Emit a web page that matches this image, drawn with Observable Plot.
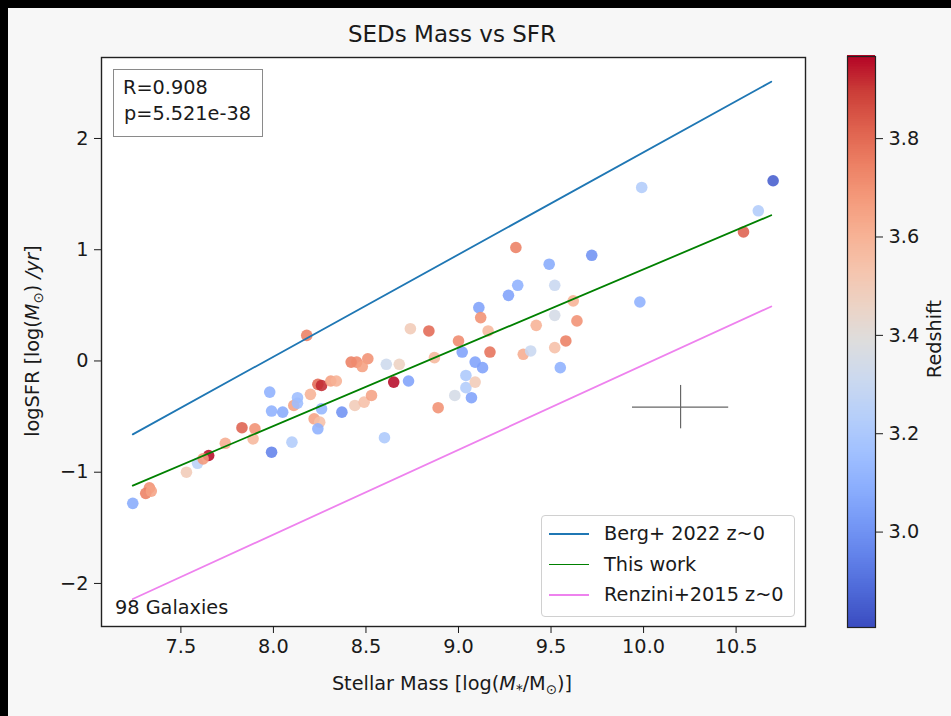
<!DOCTYPE html>
<html><head><meta charset="utf-8">
<script src="https://cdn.jsdelivr.net/npm/d3@7"></script>
<script src="https://cdn.jsdelivr.net/npm/@observablehq/plot@0.6"></script>
<style>
html,body{margin:0;padding:0;background:#000;}
#fig{position:absolute;left:0;top:0;width:951px;height:716px;background:#f7f7f7;overflow:hidden;font-family:"DejaVu Sans",sans-serif;color:#1a1a1a;}
#fig svg{position:absolute;left:0;top:0;}
.t{position:absolute;white-space:nowrap;line-height:1;font-size:19.3px;}
.c{transform:translate(-50%,-50%);}
.bl{position:absolute;background:#000;}
sub{font-size:70%;vertical-align:baseline;position:relative;top:0.3em;}
</style></head><body>
<div id="fig"></div>
<script>
// ---- data ----
const mass = [7.24,7.33,7.31,7.34,7.53,7.59,7.65,7.62,7.74,7.83,7.90,7.89,7.98,7.99,7.99,8.05,8.10,8.13,8.11,8.18,
  8.20,8.24,8.26,8.31,8.34,8.22,8.25,8.24,8.26,8.37,8.42,9.11,9.12,8.74,8.84,8.45,8.51,8.48,8.61,8.68,
  8.65,8.73,8.87,9.00,9.16,9.02,9.17,9.42,9.35,9.39,9.09,9.13,9.04,9.04,9.09,9.07,8.98,8.89,8.44,8.49,
  8.53,8.60,10.70,9.99,10.62,10.54,9.31,9.72,9.49,9.32,9.27,9.52,9.98,9.62,9.52,9.64,9.58,9.52,9.55,8.13];
const sfr = [-1.28,-1.14,-1.19,-1.17,-1.00,-0.92,-0.85,-0.88,-0.74,-0.60,-0.61,-0.70,-0.28,-0.82,-0.45,-0.46,-0.73,-0.33,-0.40,0.23,
  -0.30,-0.21,-0.22,-0.18,-0.18,-0.52,-0.55,-0.61,-0.43,-0.46,-0.01,0.48,0.39,0.29,0.27,-0.01,0.02,-0.05,-0.03,-0.03,
  -0.19,-0.18,0.03,0.18,0.27,0.08,0.08,0.32,0.06,0.09,-0.01,-0.06,-0.13,-0.24,-0.19,-0.33,-0.31,-0.42,-0.40,-0.37,
  -0.31,-0.69,1.62,1.56,1.35,1.16,1.02,0.95,0.87,0.68,0.59,0.68,0.53,0.54,0.41,0.36,0.18,0.12,-0.06,-0.38];
const redshift = [3.08,3.70,3.75,3.65,3.50,3.25,3.96,3.68,3.62,3.82,3.70,3.58,3.10,2.95,3.10,3.08,3.22,3.15,3.65,3.75,
  3.60,3.80,3.92,3.66,3.60,3.65,3.55,3.10,3.12,3.00,3.75,3.05,3.70,3.50,3.80,3.72,3.70,3.66,3.32,3.47,
  3.96,3.05,3.58,3.72,3.58,3.05,3.78,3.60,3.62,3.30,3.05,3.05,3.20,3.22,3.50,3.05,3.35,3.70,3.50,3.55,
  3.65,3.20,2.85,3.22,3.22,3.82,3.75,3.00,3.08,3.10,3.05,3.30,3.10,3.60,3.35,3.70,3.75,3.55,3.10,3.15];

const fitMass = [7.24, 10.69];
const bergSFR = [-0.66, 2.51];
const thisWorkSFR = [-1.12, 1.31];
const renziniSFR = [-2.14, 0.49];
const lineNames = ["Berg+ 2022 z~0", "This work", "Renzini+2015 z~0"];
const lineColors = ["#1f77b4", "#008000", "#ee82ee"];

const errMass = [10.2], errSFR = [-0.415], errMassHalf = [0.26], errSFRHalf = [0.195];

const xTicks = [7.5, 8.0, 8.5, 9.0, 9.5, 10.0, 10.5];
const yTicks = [-2, -1, 0, 1, 2];
const zTicks = [3.0, 3.2, 3.4, 3.6, 3.8];
const xDomain = [7.071, 10.875];
const yDomain = [-2.387, 2.728];
const zDomain = [2.806, 3.967];
const coolwarm = ["#3b4cc0","#4d68d7","#6282ea","#779af7","#8db0fe","#a3c2ff","#b8d0f9","#ccd9ee","#dddddd",
  "#ecd3c5","#f5c4ad","#f7b194","#f49a7b","#ec7f63","#de604d","#cb3e38","#b40426"];

const titleText = "SEDs Mass vs SFR";
const statsText = ["R=0.908", "p=5.521e-38"];
const countText = "98 Galaxies";

// ---- build ----
const galaxies = mass.map((m, i) => ({mass: m, sfr: sfr[i], z: redshift[i]}));
const mkLine = arr => fitMass.map((m, i) => ({mass: m, sfr: arr[i]}));
const errRows = errMass.map((m, i) => ({x: m, y: errSFR[i], dx: errMassHalf[i], dy: errSFRHalf[i]}));
const colorOpts = {
  type: "linear",
  domain: coolwarm.map((_, i) => zDomain[0] + i * (zDomain[1] - zDomain[0]) / (coolwarm.length - 1)),
  range: coolwarm, interpolate: "rgb", clamp: true
};
const fontStyle = {fontFamily: "DejaVu Sans", fontSize: "19.3px", color: "#1a1a1a", background: "transparent", overflow: "visible"};

const main = Plot.plot({
  width: 951, height: 716,
  marginLeft: 101, marginRight: 146, marginTop: 57, marginBottom: 90,
  style: fontStyle,
  x: {domain: xDomain},
  y: {domain: yDomain},
  color: colorOpts,
  marks: [
    Plot.frame({fill: "white"}),
    Plot.dot(galaxies, {x: "mass", y: "sfr", fill: "z", r: 5.8, fillOpacity: 0.88}),
    Plot.line(mkLine(bergSFR), {x: "mass", y: "sfr", stroke: lineColors[0], strokeWidth: 1.8}),
    Plot.line(mkLine(thisWorkSFR), {x: "mass", y: "sfr", stroke: lineColors[1], strokeWidth: 1.8}),
    Plot.line(mkLine(renziniSFR), {x: "mass", y: "sfr", stroke: lineColors[2], strokeWidth: 1.8}),
    Plot.ruleY(errRows, {y: "y", x1: d => d.x - d.dx, x2: d => d.x + d.dx, stroke: "#666", strokeWidth: 1.2}),
    Plot.ruleX(errRows, {x: "x", y1: d => d.y - d.dy, y2: d => d.y + d.dy, stroke: "#666", strokeWidth: 1.2}),
    Plot.frame({stroke: "#222", strokeWidth: 1.4}),
    Plot.axisX({ticks: xTicks, tickFormat: d3.format(".1f"), tickSize: 7, tickPadding: 6, label: null, fontSize: 19.3}),
    Plot.axisY({ticks: yTicks, tickFormat: d => d < 0 ? "\u2212" + Math.abs(d) : String(d), tickSize: 7, tickPadding: 6, label: null, fontSize: 19.3})
  ]
});

const nSteps = 300;
const stepH = (zDomain[1] - zDomain[0]) / nSteps;
const steps = d3.range(nSteps).map(i => zDomain[0] + i * stepH);
const cbar = Plot.plot({
  width: 951, height: 716,
  marginLeft: 847, marginRight: 76, marginTop: 56, marginBottom: 89,
  style: fontStyle,
  x: {domain: [0, 1], axis: null},
  y: {domain: zDomain},
  color: colorOpts,
  marks: [
    Plot.rect(steps, {x1: 0, x2: 1, y1: d => d, y2: d => d + stepH * 1.5, fill: d => d + stepH / 2, shapeRendering: "crispEdges"}),
    Plot.frame({stroke: "#222", strokeWidth: 1.2}),
    Plot.axisY({anchor: "right", ticks: zTicks, tickFormat: d3.format(".1f"), tickSize: 7, tickPadding: 6, label: null, fontSize: 19.3})
  ]
});

const fig = document.getElementById("fig");
fig.appendChild(main);
fig.appendChild(cbar);

function addDiv(html, css, cls) {
  const d = document.createElement("div");
  d.className = cls || "t";
  d.innerHTML = html;
  Object.assign(d.style, css);
  fig.appendChild(d);
  return d;
}
addDiv(titleText, {left: "452px", top: "34px", fontSize: "23px"}, "t c");
addDiv("Stellar Mass [log(<i>M</i><sub>*</sub>/M<sub>\u2299</sub>)]", {left: "452px", top: "684px"}, "t c");
addDiv("logSFR [log(<i>M</i><sub>\u2299</sub>) <i>/yr</i>]", {left: "33px", top: "341px", transform: "translate(-50%,-50%) rotate(-90deg)"}, "t");
addDiv("Redshift", {left: "935px", top: "339px", transform: "translate(-50%,-50%) rotate(-90deg)"}, "t");
addDiv(countText, {left: "115px", top: "608px", transform: "translate(0,-50%)"}, "t");

// stats box
const box = addDiv("", {left: "113px", top: "69px", width: "150px", height: "68px", boxSizing: "border-box", border: "1.3px solid #8a8a8a", background: "#fff"}, "t");
statsText.forEach((s, i) => {
  const d = document.createElement("div");
  d.className = "t";
  d.textContent = s;
  Object.assign(d.style, {left: (i === 0 ? 9 : 10) + "px", top: (18 + i * 26) + "px", transform: "translate(0,-50%)"});
  box.appendChild(d);
});

// legend
const leg = addDiv("", {left: "541px", top: "515px", width: "254px", height: "102px", boxSizing: "border-box", border: "1px solid #d0d0d0", borderRadius: "4px", background: "rgba(255,255,255,0.85)"}, "t");
lineNames.forEach((name, i) => {
  const cy = 18 + i * 30.5;
  const ln = document.createElement("div");
  Object.assign(ln.style, {position: "absolute", left: "7px", width: "40px", top: (cy - 0.8) + "px", height: "1.6px", background: lineColors[i]});
  leg.appendChild(ln);
  const tx = document.createElement("div");
  tx.className = "t";
  tx.textContent = name;
  Object.assign(tx.style, {left: "62px", top: cy + "px", transform: "translate(0,-50%)"});
  leg.appendChild(tx);
});

// screenshot border
addDiv("", {left: "0px", top: "0px", width: "951px", height: "8px"}, "bl");
addDiv("", {left: "0px", top: "0px", width: "8px", height: "716px"}, "bl");
</script>
</body></html>
